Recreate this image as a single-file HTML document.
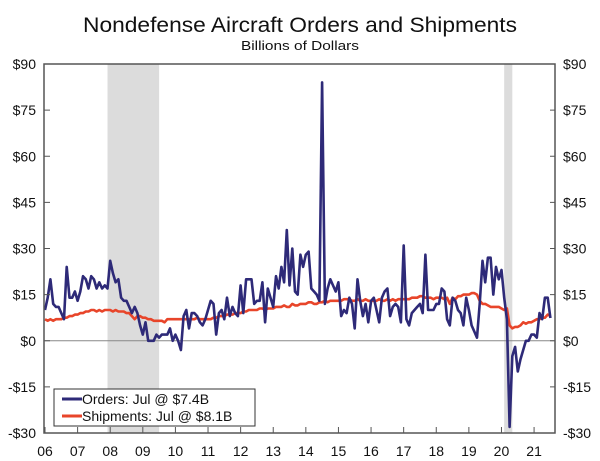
<!DOCTYPE html>
<html><head><meta charset="utf-8"><style>
body{margin:0;background:#fff;}
svg{display:block;font-family:"Liberation Sans",Verdana,sans-serif;}
</style></head><body>
<svg id="chart" width="600" height="461">
<text x="300" y="32" text-anchor="middle" font-size="21" fill="#111" textLength="434" lengthAdjust="spacingAndGlyphs">Nondefense Aircraft Orders and Shipments</text>
<text x="300" y="50" text-anchor="middle" font-size="13" fill="#111" textLength="118" lengthAdjust="spacingAndGlyphs">Billions of Dollars</text>
<g id="rec"></g>
<g id="grid"></g>
<g id="series"></g>
<g id="axes"></g>
<g>
<rect x="54" y="389" width="201" height="37" fill="#fff" stroke="#333" stroke-width="1"/>
<line x1="62" y1="399" x2="82" y2="399" stroke="#2e2a78" stroke-width="3"/>
<text x="82" y="404" font-size="14" fill="#111">Orders: Jul @ $7.4B</text>
<line x1="62" y1="416" x2="82" y2="416" stroke="#e8452a" stroke-width="3"/>
<text x="82" y="421" font-size="14" fill="#111">Shipments: Jul @ $8.1B</text>
</g>
</svg>
<script>
const yTicks=[-30,-15,0,15,30,45,60,75,90];
const yearLabels=["06","07","08","09","10","11","12","13","14","15","16","17","18","19","20","21"];
const recessions=[[2007.917,2009.5],[2020.083,2020.333]];
const orders=[
10,14,20,12,11,11,9,7,24,14,14,16,
13,16,21,20,17,21,20,17,19,17,18,17,
26,22,19,20,14,13,13,11,9,11,9,5,
2,6,0,0,0,2,1,2,2,2,4,0,
2,0,-3,8,10,4,9,9,8,6,5,7,
10,13,12,2,9,10,7,14,8,11,9,8,
18,9,20,20,20,12,13,13,19,6,17,14,
11,21,17,24,19,36,18,30,16,15,28,24,
28,29,17,16,15,13,84,12,17,20,18,16,
19,8,10,9,14,12,4,20,13,8,12,6,
13,14,10,6,14,16,17,8,11,12,11,6,
31,7,5,9,10,11,12,9,28,10,10,10,
12,12,17,16,7,5,14,13,10,9,5,14,
10,5,3,1,12,26,19,27,27,15,24,20,
23,14,7,-28,-5,-2,-10,-6,-3,0,0,2,
2,1,9,7,14,14,7.4];
const shipments=[
7,6.5,7,6.5,7,7,7,7.5,7.5,8,8,8.5,
8.5,9,9,9.5,9.5,10,10,9.5,10,9.5,10,10,
10,9.5,10,9.5,9.5,9.5,9,9,8,7,8,8,
7.5,7.5,7,7,6.5,6.5,6.5,6.5,6,7,7,7,
7,7,7,7,7,7,7,7,7.5,7,7,7,
7,7,7.5,7.5,8,8,8,8.5,8.5,8.5,9,9,
9,9.5,9.5,10,10,10,10,10.5,10.5,10,10.5,10.5,
10.5,11,11,11,11.5,11,11,12,11.5,11.5,12,12,
12,12.5,12.5,12,12,12.5,12.5,13,12.5,13,13,13,
13,13,13.5,13.5,13.5,13,13,13.5,13,13,13.5,13,
13,13,13,13.5,13,13,13.5,13,13.5,13,13.5,13.5,
13.5,13.5,13.5,14,14,14,14.5,14.5,14,14,14,13.5,
14,14,14,13.5,14,12,14,13.5,14.5,14.5,15,15,
15,15.5,15.5,15,13,12,12,11.5,11,11,11,11,
10.5,10,10.5,5,4,4.5,4.5,5,6,5.5,6,6,
6.5,7,7,7.5,7.5,8.5,8.1];
const NS="http://www.w3.org/2000/svg";
const X0=45,X1=555,T0=2006,T1=2006+187.7/12;
const Y0=433,Y1=64,V0=-30,V1=90;
function xs(t){return X0+(t-T0)/(T1-T0)*(X1-X0);}
function ys(v){return Y0-(v-V0)/(V1-V0)*(Y0-Y1);}
function mk(tag,attrs,parent){const e=document.createElementNS(NS,tag);for(const k in attrs)e.setAttribute(k,attrs[k]);parent.appendChild(e);return e;}
const rec=document.getElementById('rec');
recessions.forEach(r=>{
 const e=mk('rect',{x:xs(r[0]),y:Y1,width:xs(r[1])-xs(r[0]),height:Y0-Y1,fill:'#dcdcdc'},rec);
 
 
});
const axes=document.getElementById('axes');
const zl=mk('line',{x1:X0,x2:X1,y1:ys(0),y2:ys(0),stroke:'#888','stroke-width':1},document.getElementById('grid'));


const frame=mk('rect',{x:X0-1,y:Y1,width:X1-X0+1,height:Y0-Y1,fill:'none',stroke:'#555','stroke-width':1.5},axes);


yTicks.forEach(v=>{
 const y=ys(v);
 mk('line',{x1:X0-1,x2:X0+5,y1:y,y2:y,stroke:'#555'},axes);
 mk('line',{x1:X1-5,x2:X1,y1:y,y2:y,stroke:'#555'},axes);
 const lab=(v<0?'-$':'$')+Math.abs(v);
 const a=mk('text',{x:36,y:y+5,'text-anchor':'end','font-size':14,fill:'#111'},axes);a.textContent=lab;
 
 
 const b=mk('text',{x:563,y:y+5,'font-size':14,fill:'#111'},axes);b.textContent=lab;
 
 
});
yearLabels.forEach((l,i)=>{
 const x=xs(T0+i);
 mk('line',{x1:x,x2:x,y1:Y0,y2:Y0-6,stroke:'#555'},axes);
 const t=mk('text',{x:x,y:456,'text-anchor':'middle','font-size':14,fill:'#111'},axes);t.textContent=l;
 
 
});
const ser=document.getElementById('series');
function line(arr,color,name){
 const d=arr.map((v,i)=>(i?'L':'M')+xs(T0+i/12).toFixed(1)+','+ys(v).toFixed(1)).join('');
 const p=mk('path',{d:d,fill:'none',stroke:color,'stroke-width':2.6,'stroke-linejoin':'round'},ser);
 
 
}
line(shipments,'#e8452a','shipments-line');
line(orders,'#2e2a78','orders-line');
</script>
</body></html>
